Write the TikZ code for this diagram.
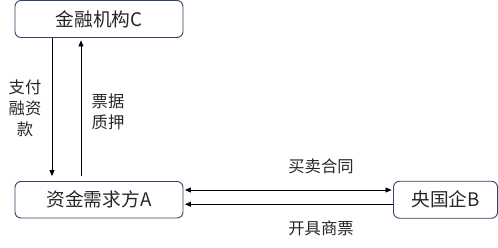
\documentclass[tikz,border=0pt]{standalone}
\usepackage{fontspec}
\usepackage{xcolor}
\usetikzlibrary{arrows.meta,positioning,calc}
\setmainfont{Noto Sans CJK SC}
\definecolor{boxline}{HTML}{2F4466}

\begin{document}
\begin{tikzpicture}[x=1pt,y=-1pt,
  box/.style={draw=boxline,rounded corners=6pt,line width=0.9pt,inner sep=0pt,
    text=black!85,font=\fontsize{18.7}{20}\selectfont},
  lab/.style={text=black!85,align=center,font=\fontsize{16.3}{20.8}\selectfont},
  arr/.style={-{Triangle[length=6pt,width=5pt]},line width=0.8pt}]
\useasboundingbox (0,0) rectangle (498,248);
\node[box,minimum width=168pt,minimum height=37pt] (C) at (99,19) {金融机构C};
\node[box,minimum width=168pt,minimum height=36.5pt] (A) at (99,199.75) {资金需求方A};
\node[box,minimum width=104pt,minimum height=37pt] (B) at (445.5,199.75) {央国企B};
\draw[arr] ([xshift=-47pt]C.south) -- ([xshift=-47pt,yshift=5pt]A.north);
\draw[arr] ([xshift=-18pt,yshift=5pt]A.north) -- ([xshift=-18pt,yshift=-2.5pt]C.south);
\draw[arr,{Triangle[length=6pt,width=5pt]}-{Triangle[length=6pt,width=5pt]}]
  ([xshift=1.5pt,yshift=9.75pt]A.east) -- ([xshift=-1.5pt,yshift=9.75pt]B.west);
\draw[arr] ([yshift=-4.5pt]B.west) -- ([xshift=1.5pt,yshift=-4.5pt]A.east);
\node[lab] (pay) at (25,108.5) {支付\\融资\\款};
\node[lab] (pledge) at (108,112) {票据\\质押};
\node[lab] (contract) at (321,166) {买卖合同};
\node[lab] (bill) at (321,228) {开具商票};
\end{tikzpicture}
\end{document}
